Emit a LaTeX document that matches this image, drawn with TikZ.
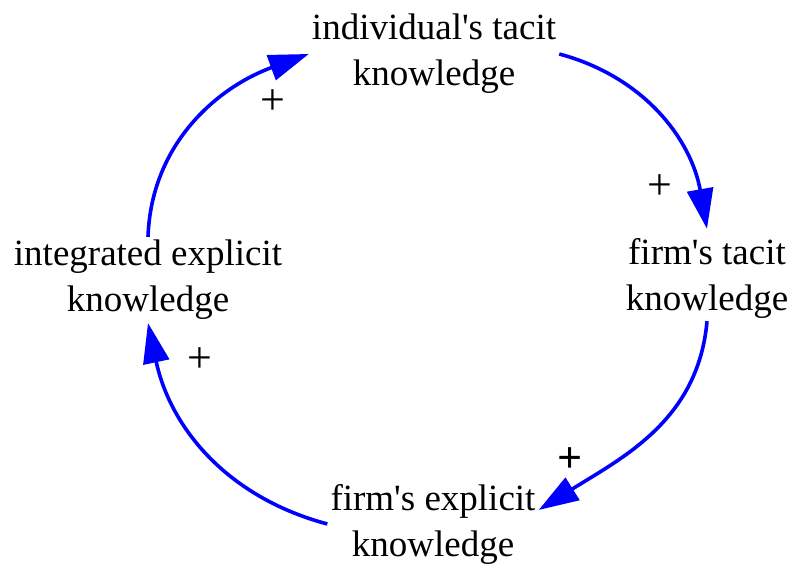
\documentclass[tikz,border=0pt]{standalone}
\usepackage{fontspec}
\setmainfont{Liberation Serif}
\usetikzlibrary{arrows.meta, positioning}
\definecolor{loopblue}{RGB}{0, 0, 255}
\tikzset{
  >=Stealth,
  loopvar/.style={align=center, inner sep=3pt, font=\fontsize{37}{46}\selectfont},
  looparrow/.style={-{Triangle[length=40pt, width=26pt]}, line width=3.6pt, loopblue},
  polarity/.style={font=\fontsize{44}{44}\selectfont, inner sep=0pt}
}

\begin{document}
\begin{tikzpicture}[x=1pt, y=1pt]
    \useasboundingbox (0,0) rectangle (795,569);

    \node (indtacit) [loopvar] at (434,515) {individual\textquotesingle s tacit\\knowledge};
    \node (firmtacit) [loopvar] at (707,291) {firm\textquotesingle s tacit\\knowledge};
    \node (firmexpl) [loopvar] at (433,45) {firm\textquotesingle s explicit\\knowledge};
    \node (integexpl) [loopvar] at (148,289) {integrated explicit\\knowledge};

    \draw[looparrow] (indtacit.east) to[out=-15, in=100] ([yshift=6pt]firmtacit.north);
    \draw[looparrow] (firmtacit.south) to[out=-95, in=32] ([yshift=14pt]firmexpl.east);
    \draw[looparrow] (firmexpl.west) to[out=165, in=-78] (integexpl.south);
    \draw[looparrow] (integexpl.north) to[out=88, in=200] (indtacit.west);

    % link polarities
    \node (pos1) [polarity] at (660,382) {+};
    \node (pos2) [polarity] at (570,109) {\textbf{+}};
    \node (pos3) [polarity] at (200,209) {+};
    \node (pos4) [polarity] at (273,467) {+};
\end{tikzpicture}
\end{document}
